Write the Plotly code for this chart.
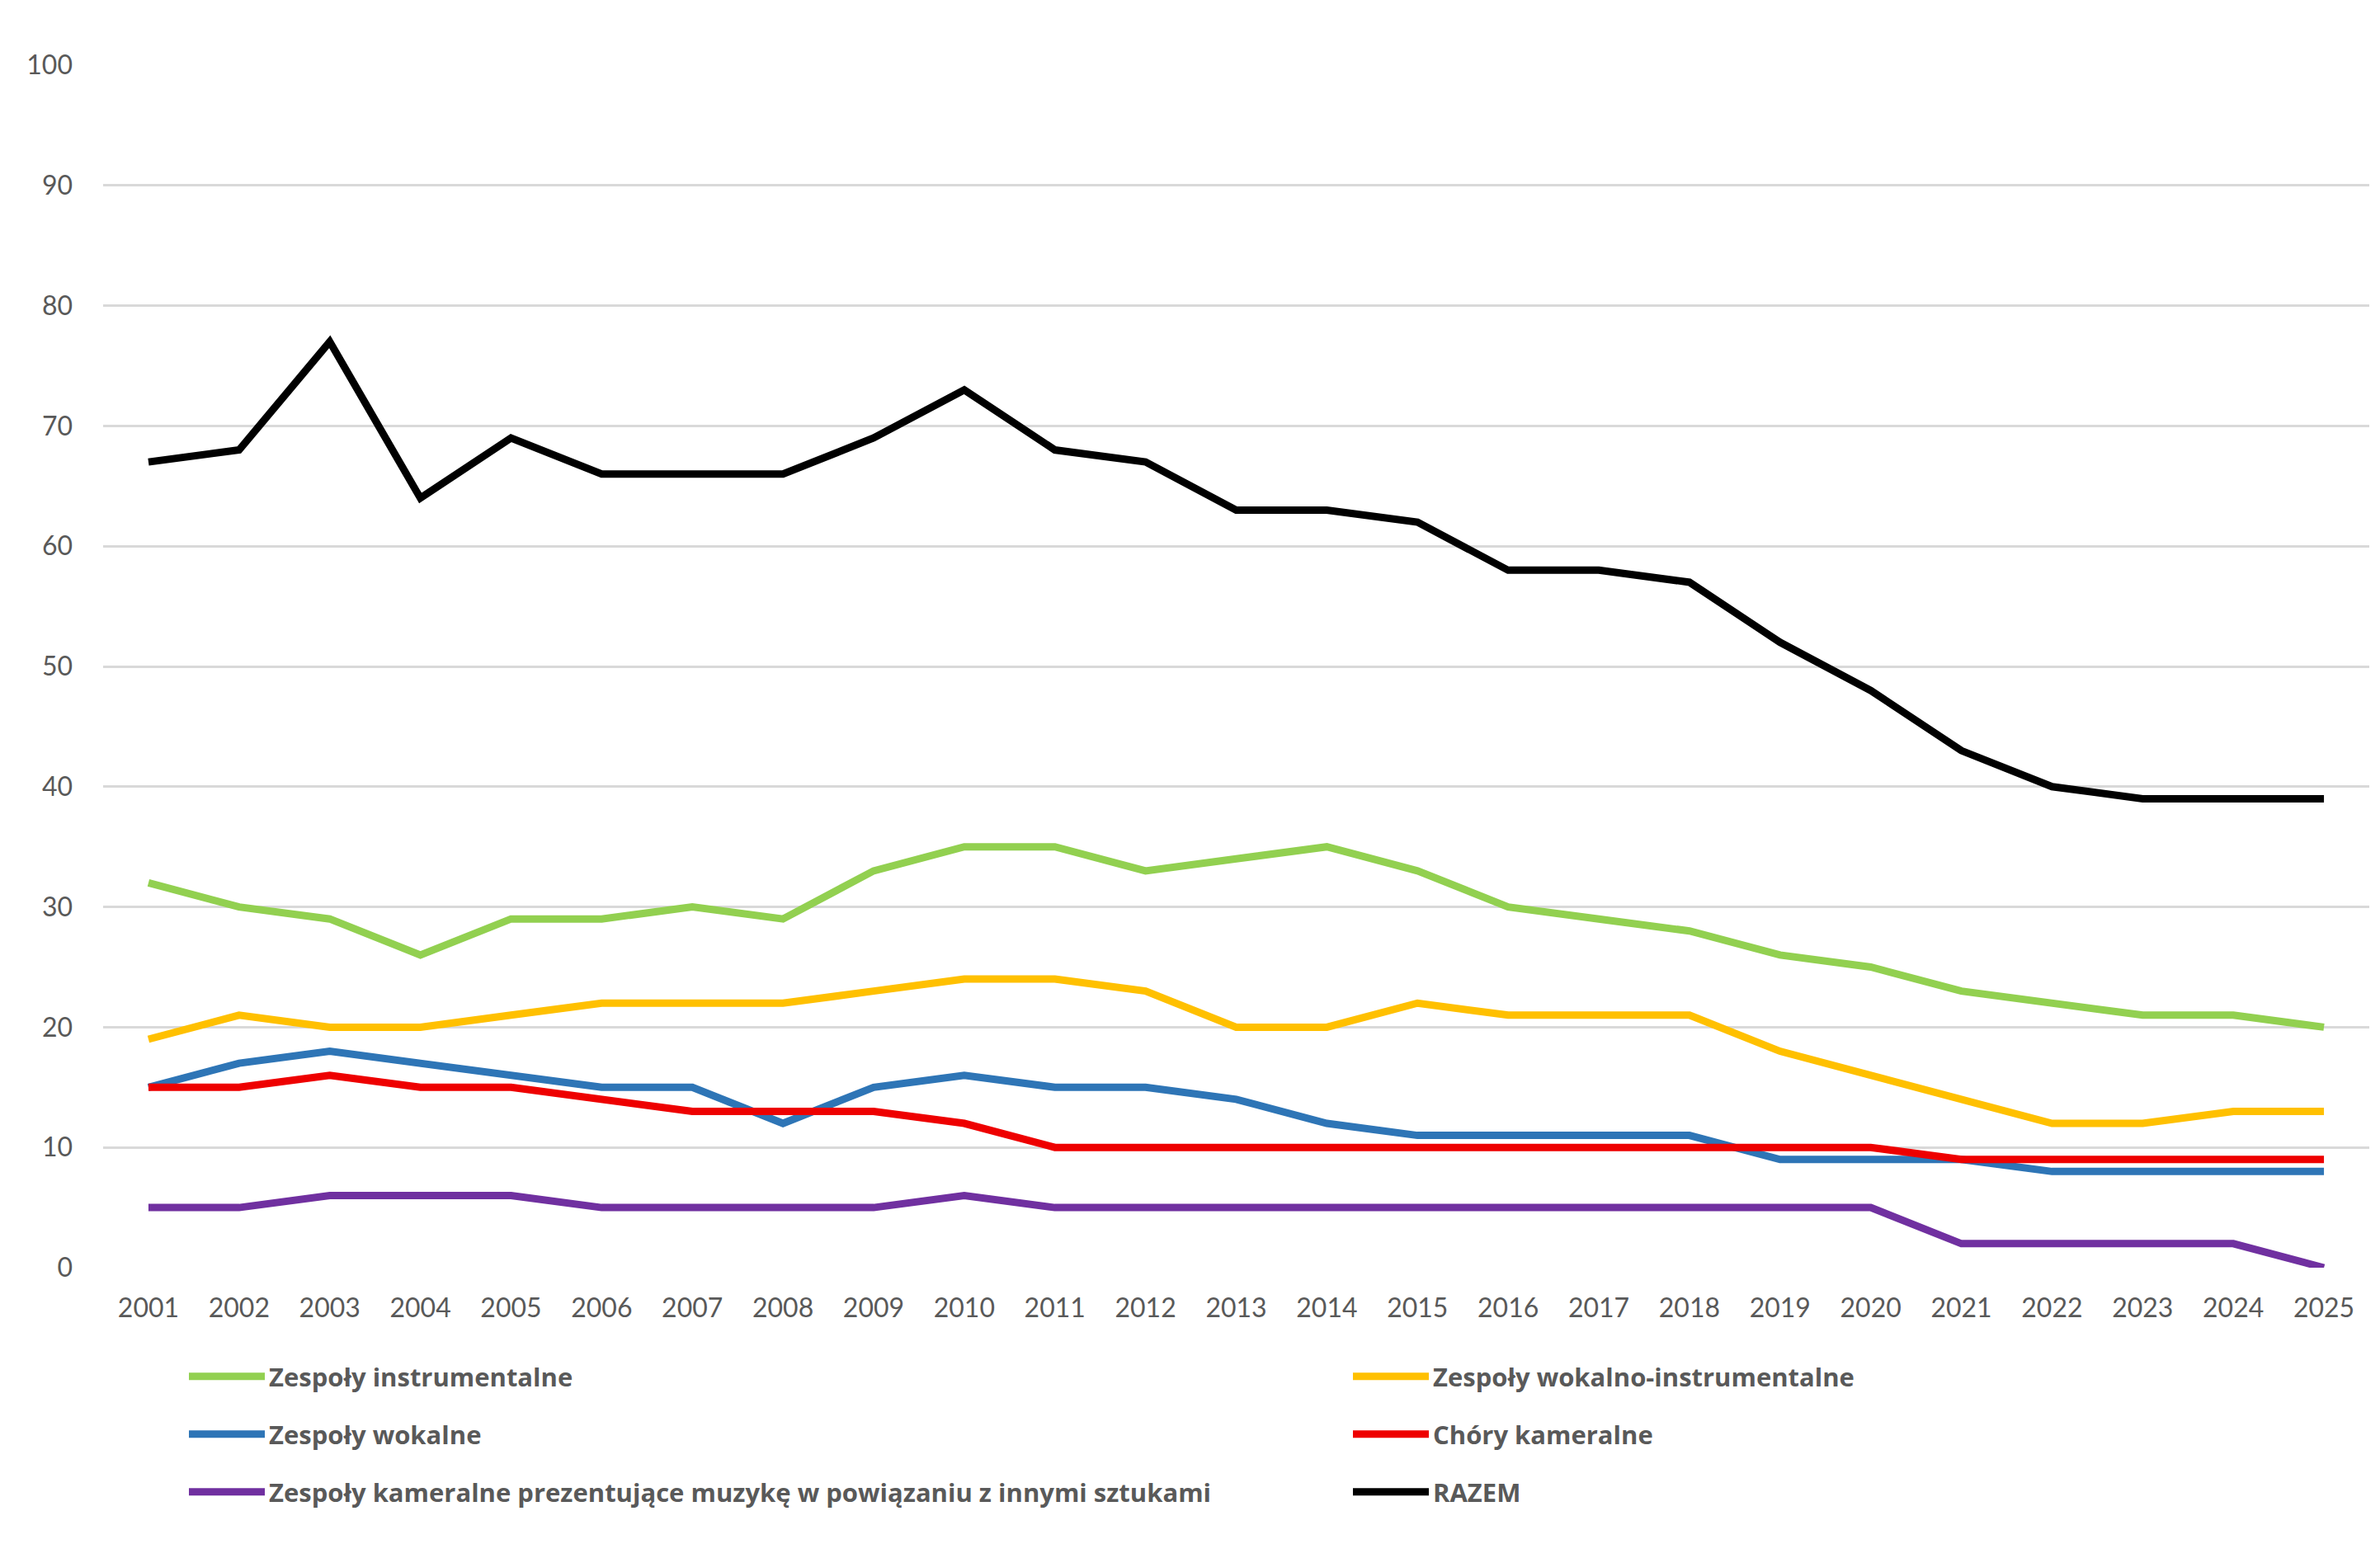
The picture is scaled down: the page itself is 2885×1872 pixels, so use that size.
import plotly.graph_objects as go

years = [str(y) for y in range(2001, 2026)]

instrumentalne = [32, 30, 29, 26, 29, 29, 30, 29, 33, 35, 35, 33, 34, 35, 33, 30, 29, 28, 26, 25, 23, 22, 21, 21, 20]
wokalno_instr = [19, 21, 20, 20, 21, 22, 22, 22, 23, 24, 24, 23, 20, 20, 22, 21, 21, 21, 18, 16, 14, 12, 12, 13, 13]
wokalne = [15, 17, 18, 17, 16, 15, 15, 12, 15, 16, 15, 15, 14, 12, 11, 11, 11, 11, 9, 9, 9, 8, 8, 8, 8]
chory = [15, 15, 16, 15, 15, 14, 13, 13, 13, 12, 10, 10, 10, 10, 10, 10, 10, 10, 10, 10, 9, 9, 9, 9, 9]
kameralne = [5, 5, 6, 6, 6, 5, 5, 5, 5, 6, 5, 5, 5, 5, 5, 5, 5, 5, 5, 5, 2, 2, 2, 2, 0]
razem = [67, 68, 77, 64, 69, 66, 66, 66, 69, 73, 68, 67, 63, 63, 62, 58, 58, 57, 52, 48, 43, 40, 39, 39, 39]

series = [
    ("Zespoły instrumentalne", instrumentalne, "#92D050"),
    ("Zespoły wokalno-instrumentalne", wokalno_instr, "#FFC000"),
    ("Zespoły wokalne", wokalne, "#2E75B6"),
    ("Chóry kameralne", chory, "#EE0000"),
    ("Zespoły kameralne prezentujące muzykę w powiązaniu z innymi sztukami", kameralne, "#7030A0"),
    ("RAZEM", razem, "#000000"),
]

FONT = "Lato"
LEGFONT = dict(family="Open Sans", size=31, color="#595959", weight="bold")

PLOT_LEFT = 125
PLOT_W = 2747
PLOT_BOTTOM = 1537
PLOT_H = 1458
ROWS = [1669, 1739, 1809]
COLS = [224, 1635]

fig = go.Figure()
layout_legends = {}
for i, (name, vals, color) in enumerate(series):
    key = "legend" if i == 0 else f"legend{i + 1}"
    fig.add_trace(go.Scatter(
        x=years, y=vals, name=name, mode="lines",
        line=dict(color=color, width=9),
        legend=key,
    ))
    row, col = divmod(i, 2)
    layout_legends[key] = dict(
        orientation="h",
        x=(COLS[col] - PLOT_LEFT) / PLOT_W, xanchor="left",
        y=(PLOT_BOTTOM - ROWS[row]) / PLOT_H, yanchor="middle",
        itemwidth=92,
        font=LEGFONT,
        bgcolor="rgba(0,0,0,0)",
    )

fig.update_layout(
    width=2885, height=1872,
    margin=dict(l=PLOT_LEFT, r=13, t=79, b=335),
    paper_bgcolor="white", plot_bgcolor="white",
    font=dict(family=FONT, color="#595959", size=32),
    showlegend=True,
    xaxis=dict(
        type="category", range=[-0.5, 24.5],
        showgrid=False, showline=False, zeroline=False,
        ticks="", ticklabelstandoff=27,
        tickfont=dict(family=FONT, size=32, color="#595959"),
    ),
    yaxis=dict(
        range=[0, 100], dtick=10, tick0=0,
        showgrid=True, gridcolor="#D9D9D9", gridwidth=3,
        zeroline=False, showline=False,
        ticks="", ticklabelstandoff=36,
        tickfont=dict(family=FONT, size=32, color="#595959"),
    ),
    **layout_legends,
)

fig.write_html("out.html")
